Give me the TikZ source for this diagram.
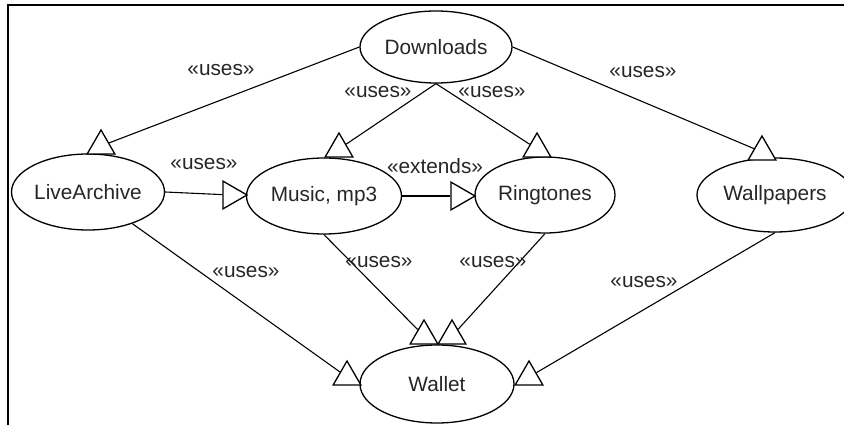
\documentclass[tikz,border=0pt]{standalone}
\usepackage{fontspec}
\setmainfont{Liberation Sans}
\usepackage{tikz}
\usetikzlibrary{shapes.geometric, positioning}

\tikzset{
  usecase/.style={ellipse, draw, line width=1.3pt, inner sep=0pt, minimum width=153pt, minimum height=76pt},
  openhead/.style={regular polygon, regular polygon sides=3, draw, line width=1.3pt, fill=white, minimum size=32pt, inner sep=0pt},
  link/.style={line width=1.1pt},
}

\begin{document}
\begin{tikzpicture}[x=1pt, y=-1pt, every node/.style={font=\fontsize{20.8pt}{25pt}\selectfont, text=black!85}]
    \useasboundingbox (0,0) rectangle (844,425);
    \draw[line width=2pt] (8,425) |- (844,5);

    % use cases
    \node[usecase, minimum width=152pt, minimum height=72pt] (dl) at (436,47) {Downloads};
    \node[usecase] (live) at (88,192) {LiveArchive};
    \node[usecase, minimum width=155pt] (music) at (324,196) {Music, mp3};
    \node[usecase, minimum width=140pt] (ring) at (545,195) {Ringtones};
    \node[usecase, minimum width=156pt, minimum height=74pt] (wall) at (775,195) {Wallpapers};
    \node[usecase, minimum width=154pt, minimum height=78pt] (wallet) at (437,384) {Wallet};

    % heads
    \node[openhead] (hLive) at (101,146) {};
    \node[openhead] (hMus) at (339,149) {};
    \node[openhead] (hRing) at (537,149) {};
    \node[openhead] (hWall) at (762,152) {};
    \node[openhead, shape border rotate=-90] (hMusL) at (231,195) {};
    \node[openhead, shape border rotate=-90] (hRingL) at (459,196) {};
    \node[openhead] (hW1) at (347,377) {};
    \node[openhead] (hW2) at (424,336) {};
    \node[openhead] (hW3) at (452,336) {};
    \node[openhead] (hW4) at (529,377) {};

    % links
    \draw[link] (dl.west) -- (hLive);
    \draw[link] (dl.south) -- (hMus);
    \draw[link] (dl.south) -- (hRing);
    \draw[link] (dl.east) -- (hWall);
    \draw[link] (live.east) -- (hMusL);
    \draw[link] (music.east) -- (hRingL);
    \draw[link] (live) -- (hW1);
    \draw[link] (music.south) -- (hW2);
    \draw[link] (ring.south) -- (hW3);
    \draw[link] (wall.south) -- (hW4);

    % stereotypes
    \node (s1) at (221,70) {«uses»};
    \node (s2) at (378,92) {«uses»};
    \node (s3) at (492,92) {«uses»};
    \node (s4) at (643,72) {«uses»};
    \node (s5) at (204,164) {«uses»};
    \node (s6) at (435,166) {«extends»};
    \node (s7) at (246,272) {«uses»};
    \node (s8) at (379,262) {«uses»};
    \node (s9) at (493,262) {«uses»};
    \node (s10) at (644,282) {«uses»};
\end{tikzpicture}
\end{document}
